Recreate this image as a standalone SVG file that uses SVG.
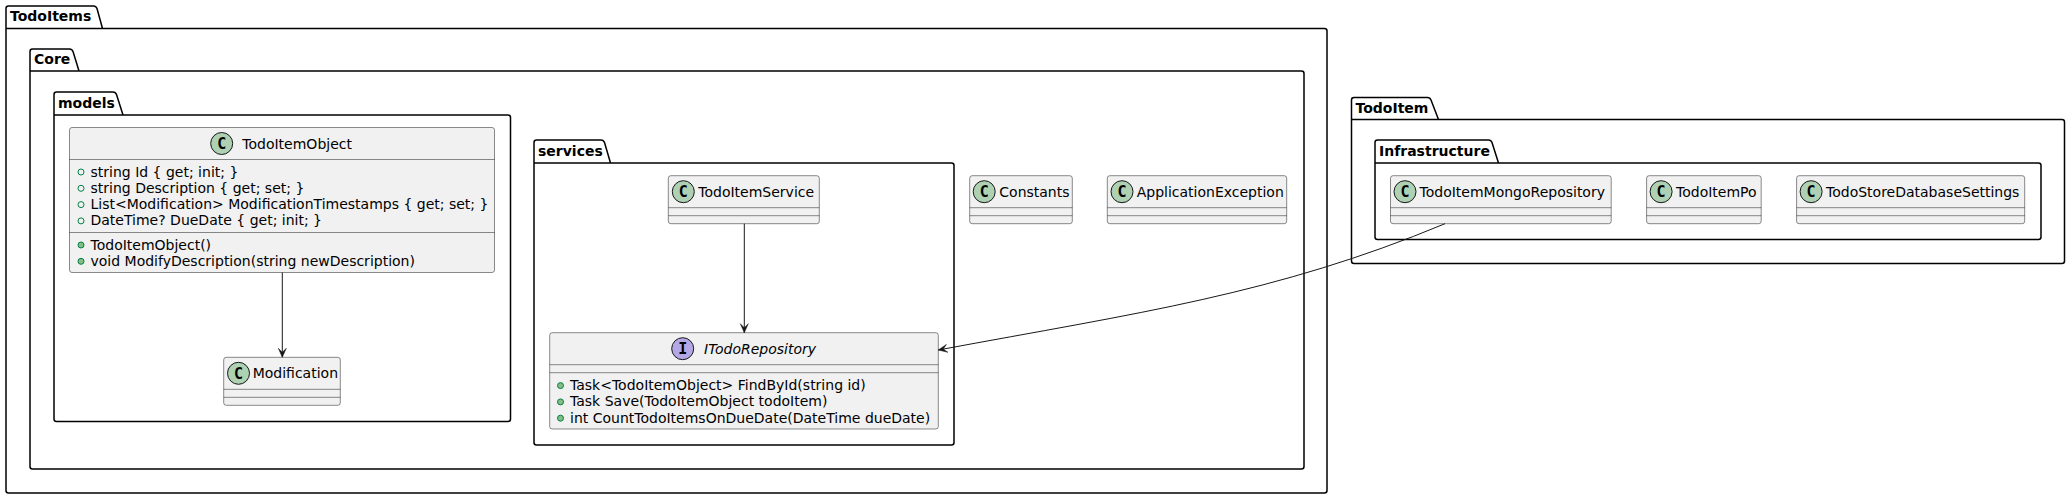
<svg xmlns="http://www.w3.org/2000/svg" width="2071" height="499" viewBox="0 0 2071 499">
<defs>
<marker id="arr" viewBox="0 0 10 10" refX="10" refY="5" markerWidth="10" markerHeight="10" markerUnits="userSpaceOnUse" orient="auto">
<path d="M10,5 L1,1 L5,5 L1,9 Z" fill="#181818" stroke="#181818" stroke-width="0.5"/>
</marker>
</defs>
<style>
.pkg{fill:none;stroke:#000;stroke-width:1.5;stroke-linejoin:round}
.pt{font-family:"DejaVu Sans",sans-serif;font-size:14px;font-weight:bold;fill:#000}
.cls{fill:#F1F1F1;stroke:#181818;stroke-width:0.5}
.sep{stroke:#181818;stroke-width:0.5}
.ct{font-family:"DejaVu Sans",sans-serif;font-size:14px;fill:#000}
.it{font-style:italic}
.spc{fill:#ADD1B2;stroke:#181818;stroke-width:1}
.spi{fill:#B4A7E5;stroke:#181818;stroke-width:1}
.sl{font-family:"DejaVu Sans Mono",monospace;font-size:15px;font-weight:bold;fill:#000;text-anchor:middle}
.vf{fill:none;stroke:#038048;stroke-width:1}
.vm{fill:#84BE84;stroke:#038048;stroke-width:1}
.conn path{fill:none;stroke:#181818;stroke-width:1;marker-end:url(#arr)}
</style>

<g id="pkg-TodoItems">
<path class="pkg" d="M6,490.5 L6,8.5 Q6,6 8.5,6 L93.5,6 Q96,6 97,8.5 L102.5,28.5 L1324.5,28.5 Q1327,28.5 1327,31 L1327,490.5 Q1327,493 1324.5,493 L8.5,493 Q6,493 6,490.5 Z M6,28.5 L102.5,28.5"/>
<text class="pt" x="10" y="21">TodoItems</text>
</g>
<g id="pkg-Core">
<path class="pkg" d="M30,466.5 L30,51.5 Q30,49 32.5,49 L69.5,49 Q72,49 73,51.5 L79,71 L1301.5,71 Q1304,71 1304,73.5 L1304,466.5 Q1304,469 1301.5,469 L32.5,469 Q30,469 30,466.5 Z M30,71 L79,71"/>
<text class="pt" x="34" y="64">Core</text>
</g>
<g id="pkg-models">
<path class="pkg" d="M54,419 L54,94.5 Q54,92 56.5,92 L113,92 Q115.5,92 116.5,94.5 L123,115 L508,115 Q510.5,115 510.5,117.5 L510.5,419 Q510.5,421.5 508,421.5 L56.5,421.5 Q54,421.5 54,419 Z M54,115 L123,115"/>
<text class="pt" x="58" y="107.5">models</text>
</g>
<g id="pkg-services">
<path class="pkg" d="M534,442.5 L534,142.5 Q534,140 536.5,140 L601,140 Q603.5,140 604.5,142.5 L610.5,163 L951.5,163 Q954,163 954,165.5 L954,442.5 Q954,445 951.5,445 L536.5,445 Q534,445 534,442.5 Z M534,163 L610.5,163"/>
<text class="pt" x="538" y="155.5">services</text>
</g>
<g id="pkg-TodoItem">
<path class="pkg" d="M1351.5,261 L1351.5,100 Q1351.5,97.5 1354,97.5 L1427.5,97.5 Q1430,97.5 1431,100 L1438.5,119.5 L2062,119.5 Q2064.5,119.5 2064.5,122 L2064.5,261 Q2064.5,263.5 2062,263.5 L1354,263.5 Q1351.5,263.5 1351.5,261 Z M1351.5,119.5 L1438.5,119.5"/>
<text class="pt" x="1355.5" y="112.5">TodoItem</text>
</g>
<g id="pkg-Infrastructure">
<path class="pkg" d="M1375,237 L1375,142.5 Q1375,140 1377.5,140 L1488.5,140 Q1491,140 1492,142.5 L1498.5,163 L2038.5,163 Q2041,163 2041,165.5 L2041,237 Q2041,239.5 2038.5,239.5 L1377.5,239.5 Q1375,239.5 1375,237 Z M1375,163 L1498.5,163"/>
<text class="pt" x="1379" y="156">Infrastructure</text>
</g>

<g id="TodoItemObject">
<rect class="cls" x="69.5" y="127.5" width="425" height="145" rx="2.5"/>
<line class="sep" x1="69.5" y1="159.5" x2="494.5" y2="159.5"/>
<line class="sep" x1="69.5" y1="232.5" x2="494.5" y2="232.5"/>
<circle class="spc" cx="221.7" cy="143.5" r="11"/>
<text class="sl" x="221.7" y="148.7">C</text>
<text class="ct" x="242.3" y="148.5">TodoItemObject</text>
<circle class="vf" cx="81" cy="172" r="3"/>
<text class="ct" x="90.5" y="176.5">string Id { get; init; }</text>
<circle class="vf" cx="81" cy="188.3" r="3"/>
<text class="ct" x="90.5" y="192.8">string Description { get; set; }</text>
<circle class="vf" cx="81" cy="204.6" r="3"/>
<text class="ct" x="90.5" y="209.1">List&lt;Modification&gt; ModificationTimestamps { get; set; }</text>
<circle class="vf" cx="81" cy="220.9" r="3"/>
<text class="ct" x="90.5" y="225.4">DateTime? DueDate { get; init; }</text>
<circle class="vm" cx="81" cy="245" r="3"/>
<text class="ct" x="90.5" y="249.5">TodoItemObject()</text>
<circle class="vm" cx="81" cy="261.3" r="3"/>
<text class="ct" x="90.5" y="265.8">void ModifyDescription(string newDescription)</text>
</g>

<g id="Modification">
<rect class="cls" x="223.7" y="357.3" width="116.6" height="48" rx="2.5"/>
<line class="sep" x1="223.7" y1="389.3" x2="340.3" y2="389.3"/>
<line class="sep" x1="223.7" y1="397.3" x2="340.3" y2="397.3"/>
<circle class="spc" cx="238.5" cy="373.3" r="11"/>
<text class="sl" x="238.5" y="378.5">C</text>
<text class="ct" x="252.7" y="378.3">Modification</text>
</g>

<g id="TodoItemService">
<rect class="cls" x="668.3" y="175.7" width="151" height="48" rx="2.5"/>
<line class="sep" x1="668.3" y1="207.7" x2="819.3" y2="207.7"/>
<line class="sep" x1="668.3" y1="215.7" x2="819.3" y2="215.7"/>
<circle class="spc" cx="683.3" cy="191.7" r="11"/>
<text class="sl" x="683.3" y="196.9">C</text>
<text class="ct" x="698.3" y="196.7">TodoItemService</text>
</g>

<g id="ITodoRepository">
<rect class="cls" x="549.7" y="332.7" width="388.6" height="96.3" rx="2.5"/>
<line class="sep" x1="549.7" y1="364.7" x2="938.3" y2="364.7"/>
<line class="sep" x1="549.7" y1="372.7" x2="938.3" y2="372.7"/>
<circle class="spi" cx="682.7" cy="348.7" r="11"/>
<text class="sl" x="682.7" y="353.9">I</text>
<text class="ct it" x="704" y="353.7">ITodoRepository</text>
<circle class="vm" cx="560.5" cy="385.6" r="3"/>
<text class="ct" x="570" y="390.1">Task&lt;TodoItemObject&gt; FindById(string id)</text>
<circle class="vm" cx="560.5" cy="401.9" r="3"/>
<text class="ct" x="570" y="406.4">Task Save(TodoItemObject todoItem)</text>
<circle class="vm" cx="560.5" cy="418.2" r="3"/>
<text class="ct" x="570" y="422.7">int CountTodoItemsOnDueDate(DateTime dueDate)</text>
</g>

<g id="Constants">
<rect class="cls" x="969.7" y="175.7" width="102.6" height="48" rx="2.5"/>
<line class="sep" x1="969.7" y1="207.7" x2="1072.3" y2="207.7"/>
<line class="sep" x1="969.7" y1="215.7" x2="1072.3" y2="215.7"/>
<circle class="spc" cx="984.2" cy="191.7" r="11"/>
<text class="sl" x="984.2" y="196.9">C</text>
<text class="ct" x="999.3" y="196.7">Constants</text>
</g>

<g id="ApplicationException">
<rect class="cls" x="1107.3" y="175.7" width="179.4" height="48" rx="2.5"/>
<line class="sep" x1="1107.3" y1="207.7" x2="1286.7" y2="207.7"/>
<line class="sep" x1="1107.3" y1="215.7" x2="1286.7" y2="215.7"/>
<circle class="spc" cx="1122" cy="191.7" r="11"/>
<text class="sl" x="1122" y="196.9">C</text>
<text class="ct" x="1136.7" y="196.7">ApplicationException</text>
</g>

<g id="TodoItemMongoRepository">
<rect class="cls" x="1390.5" y="175.7" width="220.7" height="48" rx="2.5"/>
<line class="sep" x1="1390.5" y1="207.7" x2="1611.2" y2="207.7"/>
<line class="sep" x1="1390.5" y1="215.7" x2="1611.2" y2="215.7"/>
<circle class="spc" cx="1405" cy="191.7" r="11"/>
<text class="sl" x="1405" y="196.9">C</text>
<text class="ct" x="1419.5" y="196.7">TodoItemMongoRepository</text>
</g>

<g id="TodoItemPo">
<rect class="cls" x="1646.6" y="175.7" width="114.6" height="48" rx="2.5"/>
<line class="sep" x1="1646.6" y1="207.7" x2="1761.2" y2="207.7"/>
<line class="sep" x1="1646.6" y1="215.7" x2="1761.2" y2="215.7"/>
<circle class="spc" cx="1661.1" cy="191.7" r="11"/>
<text class="sl" x="1661.1" y="196.9">C</text>
<text class="ct" x="1676" y="196.7">TodoItemPo</text>
</g>

<g id="TodoStoreDatabaseSettings">
<rect class="cls" x="1796.6" y="175.7" width="228.1" height="48" rx="2.5"/>
<line class="sep" x1="1796.6" y1="207.7" x2="2024.7" y2="207.7"/>
<line class="sep" x1="1796.6" y1="215.7" x2="2024.7" y2="215.7"/>
<circle class="spc" cx="1811.1" cy="191.7" r="11"/>
<text class="sl" x="1811.1" y="196.9">C</text>
<text class="ct" x="1826" y="196.7">TodoStoreDatabaseSettings</text>
</g>

<g id="connectors" class="conn">
<path d="M282.3,272.5 L282.3,357.3"/>
<path d="M744.3,223.7 L744.3,332.7"/>
<path d="M1445,223.7 C1275,294.4 1138.3,312.8 938.3,350"/>
</g>
</svg>
